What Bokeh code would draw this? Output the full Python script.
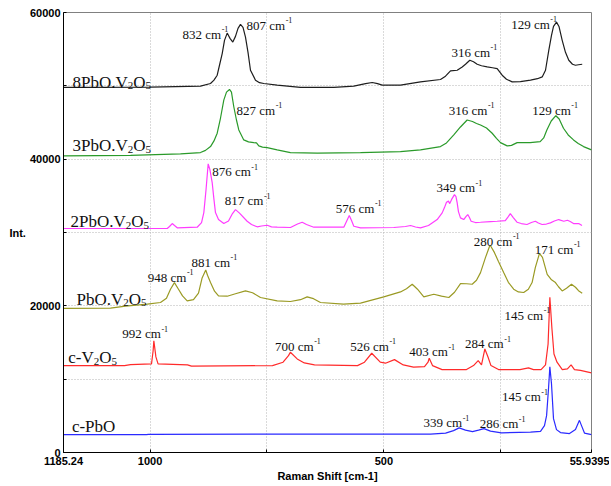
from bokeh.plotting import figure
from bokeh.models import Range1d, FixedTicker, ColumnDataSource
from bokeh.embed import file_html
from bokeh.resources import INLINE
from bokeh.core.properties import value

# ---------------- data (Raman shift [cm-1], intensity) ----------------
pbo_x = [1185.2, 1008, 1003.5, 400.3, 368, 351, 339, 325.5, 310.5, 297.6, 286, 272, 248.5, 186.4,
         165, 156.5, 152, 147.9, 145, 141.5, 137.2, 130.8, 122.3, 103, 90.2, 81.7, 77.3, 71, 56]
pbo_y = [2444, 2444, 2484, 2511, 2647, 2987, 3353, 3054, 2851, 3054, 3258, 2919, 2674, 2783,
         2892, 3665, 5023, 8688, 11675, 9367, 4616, 3122, 2715, 2579, 3122, 4385, 3665, 2647, 2444]

v2o5_x = [1185.2, 1054.8, 1042, 997, 993.6, 992, 987.6, 983, 920, 911.5, 738.2, 715.6, 704, 700,
          685.4, 670.2, 648.4, 556.5, 541.5, 526, 507.7, 496.6, 477.3, 458.5, 436.6, 413.1, 405.6,
          403, 396, 375.5, 323.3, 308.3, 298.3, 291.2, 284, 277.3, 271, 254.8, 209, 190.7, 180,
          163.8, 154.3, 148.8, 145, 140.5, 136.2, 129.7, 118.4, 107.4, 99.6, 92.4, 79.5, 56]
v2o5_y = [11851, 11851, 11987, 12082, 13847, 15245, 13032, 12082, 11946, 11770, 11851, 12313,
          13208, 13670, 12760, 12218, 11946, 11851, 12313, 13534, 12313, 12177, 12665, 11946,
          11634, 11715, 12313, 12855, 11851, 11308, 11308, 11851, 12530, 11946, 14118, 13032,
          11851, 11308, 11308, 11539, 11308, 11308, 11946, 14797, 21177, 16833, 13439, 12313,
          11308, 11403, 11946, 11308, 11199, 10860]

g1_x = [1185.2, 1084.7, 1052.6, 1006.2, 977.8, 965, 956.4, 948, 939.3, 930.7, 920.7, 907.2, 896.5,
        889, 881, 877.2, 870.8, 862.2, 853.7, 835.1, 817.4, 796, 781, 763.9, 728.2, 699.8, 678.4,
        664.1, 650.5, 635.6, 586.4, 550, 500.2, 464.5, 451.7, 439.4, 428.1, 414.6, 393.2, 376.7,
        361.1, 348.9, 336.1, 323.2, 311.1, 301.9, 293.3, 282.6, 274.1, 272.3, 263.7, 255.2, 243.8,
        233.8, 222.4, 212.3, 201, 191, 183, 176, 167.2, 160.8, 150.7, 141.5, 133, 126.5, 118.6,
        109.4, 98.7, 90.2, 83.7, 75.8]
g1_y = [19643, 19684, 19955, 20227, 20458, 21041, 22263, 23172, 22263, 21354, 20675, 20838, 21720,
        23756, 24883, 24164, 23172, 21992, 21354, 21313, 21652, 22032, 21788, 21136, 20675, 20594,
        20838, 21218, 20973, 20458, 20227, 20363, 21218, 21897, 22331, 22942, 22263, 21218, 21584,
        21313, 21136, 21856, 23037, 23010, 22942, 23485, 24530, 26607, 28100, 28236, 27286, 26064,
        24530, 23213, 22263, 21897, 21815, 22263, 23172, 25250, 27150, 26607, 24299, 23553, 23172,
        22602, 22032, 22399, 22942, 22535, 22060, 21720]

g2_x = [1185.2, 963.4, 958.5, 952.7, 947.8, 942, 899.3, 890, 885.1, 880.4, 875.8, 872, 867.2, 863.4,
        860.2, 853.7, 842.4, 832.3, 823.8, 817.4, 808.8, 792.4, 783.1, 771, 761.7, 749.5, 740.4,
        728.2, 699.8, 684.7, 674.7, 665.5, 649.9, 585.7, 580, 574, 569.2, 564.3, 550, 478.8, 453.8,
        443, 432.3, 421.7, 404.6, 386, 375.3, 370.4, 366.1, 361.8, 359.1, 355.4, 349, 345.8, 343.3,
        340.5, 336.2, 329.2, 324.5, 320.6, 317, 313.4, 304.2, 293.5, 272.1, 257.9, 240.3, 233.9,
        229.6, 223.2, 215.3, 206.1, 193.9, 184.5, 176, 169.6, 161.6, 152.4, 143.9, 135.3, 126.1,
        115.2, 107.3, 101.5, 94.4, 83.4, 76.3]
g2_y = [30544, 30544, 30815, 31222, 30951, 30639, 30720, 31358, 32716, 35838, 39368, 38553, 36788,
        34480, 32716, 31765, 31222, 31562, 32580, 33123, 32648, 31534, 31087, 30775, 30883, 30992,
        30775, 30720, 30680, 31155, 31399, 31087, 30720, 30720, 31494, 32309, 31630, 30856, 30639,
        30680, 30815, 30951, 30747, 30639, 30951, 31765, 32675, 33394, 34114, 34277, 33938, 34480,
        35159, 34888, 34073, 32852, 31996, 31765, 32173, 32444, 32037, 31535, 31358, 31399, 31494,
        31535, 31630, 32173, 32580, 32037, 31399, 31222, 31087, 31358, 31535, 31290, 31087, 31155,
        31318, 31562, 31765, 31535, 31670, 31494, 31222, 31222, 30951]

g3_x = [1185.2, 1041.9, 935, 892.2, 881.5, 870.8, 863.4, 856.5, 849.4, 842.4, 836.6, 830.2, 826,
        821, 815.3, 810.3, 799.7, 789.6, 778.2, 772.5, 767.5, 759.6, 749.6, 728.2, 699.8, 642.6,
        550, 464.5, 421.7, 378.9, 366.1, 350.5, 336.2, 321.9, 310.5, 301.9, 293.3, 280.5, 268.4,
        259.2, 250.6, 236.3, 227.1, 214.9, 187.1, 165.7, 158.2, 151.4, 142.1, 132.2, 125.1, 115.9,
        105.8, 94.4, 84.3, 73, 56]
g3_y = [40454, 40522, 40725, 40902, 41200, 41716, 42490, 43535, 45612, 48056, 49142, 49508, 49142,
        47147, 45341, 43983, 42626, 42354, 42259, 42218, 41811, 41648, 41580, 41268, 40902, 40820,
        40902, 41038, 41268, 41716, 42218, 43304, 44390, 45341, 45137, 44866, 44662, 44255, 43535,
        42829, 42259, 41811, 41879, 42259, 42259, 42395, 42897, 43983, 45205, 45924, 45476, 44214,
        43304, 42626, 42151, 41716, 41268]

g8_x = [1185.2, 1148.9, 999.2, 892.2, 870.8, 863.4, 856.5, 851.6, 845.8, 840.9, 835.1, 829.1,
        823.1, 817.4, 812, 806.7, 801.3, 796, 790.6, 785.3, 774.6, 766, 756.8, 728.2, 678.4, 607.1,
        564.3, 539.3, 524.9, 513.6, 503.6, 464.5, 421.7, 378.9, 368.2, 357.5, 343.2, 332.5, 325.4,
        316.2, 308.3, 300.4, 291.2, 279, 267.7, 257.7, 247, 237.8, 225.6, 208, 186.4, 171.5, 161.4,
        154.3, 147.3, 141.5, 137.2, 130.8, 125.5, 118.6, 111.6, 104.5, 96.6, 90.2, 83.7, 75.8]
g8_y = [49779, 49779, 49820, 49956, 50322, 50771, 51449, 52807, 54395, 56201, 57192, 56472, 55970,
        56744, 57830, 58373, 57966, 56649, 54572, 52128, 50771, 50431, 50322, 50092, 49779, 49779,
        49956, 50295, 50458, 50295, 50092, 50092, 50540, 50865, 51313, 52033, 52128, 52576, 52943,
        53486, 53282, 52943, 52739, 52576, 52467, 52359, 51449, 50906, 50540, 50567, 50771, 50974,
        51218, 52128, 54843, 56879, 58101, 58685, 58101, 56201, 54572, 53486, 52943, 52807, 52875,
        52943]

spectra = [
    (g8_x, g8_y, "#1e1e1e"),
    (g3_x, g3_y, "#2a9a2a"),
    (g2_x, g2_y, "#ff3cff"),
    (g1_x, g1_y, "#9a9a24"),
    (v2o5_x, v2o5_y, "#ff2a2a"),
    (pbo_x, pbo_y, "#2a2aff"),
]

# series names: (pieces, anchor x, anchor y)  pieces: (text, kind)
series_labels = [
    ([("8PbO.V", "n"), ("2", "sub"), ("O", "n"), ("5", "sub")], 1166, 50092),
    ([("3PbO.V", "n"), ("2", "sub"), ("O", "n"), ("5", "sub")], 1166, 41404),
    ([("2PbO.V", "n"), ("2", "sub"), ("O", "n"), ("5", "sub")], 1170.3, 31087),
    ([("PbO.V", "n"), ("2", "sub"), ("O", "n"), ("5", "sub")], 1157.4, 20458),
    ([("c-V", "n"), ("2", "sub"), ("O", "n"), ("5", "sub")], 1175, 12489),
    ([("c-PbO", "n")], 1167.3, 3122),
]

# peak labels: (wavenumber text, anchor x, anchor y)
peak_labels = [
    ("832", 930.7, 56744), ("807", 793.8, 57965), ("316", 355.4, 54300), ("129", 227.7, 58101),
    ("827", 815.2, 46427), ("316", 361.2, 46427), ("129", 182.8, 46427),
    ("876", 867.2, 38010), ("817", 840.2, 34033), ("576", 602.8, 33028), ("349", 387.5, 35838),
    ("948", 1004.9, 23621), ("881", 911.5, 25657), ("280", 307.7, 28508), ("171", 177.2, 27462),
    ("992", 1059.5, 15923), ("700", 732.9, 14213), ("526", 571.8, 14213), ("403", 445.6, 13439),
    ("284", 326.3, 14566), ("145", 242.0, 18462),
    ("339", 415.2, 3801), ("286", 295.2, 3665), ("145", 247.1, 7330),
]

# ---------------- figure ----------------
X0, X1 = 1185.24, 55.9395
p = figure(width=609, height=484, output_backend="svg", toolbar_location=None,
           x_range=Range1d(X0, X1), y_range=Range1d(0, 60000),
           min_border_left=63, min_border_right=18, min_border_top=12, min_border_bottom=30,
           background_fill_color="white", border_fill_color="white")
p.outline_line_color = "#808080"

p.xaxis.ticker = FixedTicker(ticks=[X0, 1000, 500, X1], minor_ticks=[750, 250])
p.xaxis.major_label_overrides = {X0: "1185.24", 1000: "1000", 500: "500", X1: "55.9395"}
p.yaxis.ticker = FixedTicker(ticks=[0, 20000, 40000, 60000], minor_ticks=[10000, 30000, 50000])
p.xgrid.ticker = FixedTicker(ticks=[1000, 750, 500, 250])
p.ygrid.ticker = FixedTicker(ticks=[10000, 20000, 30000, 40000, 50000])
for g in (p.xgrid, p.ygrid):
    g.grid_line_color = "#b4b4b4"
    g.grid_line_dash = "1 2"
    g.grid_line_width = 1

for ax in (p.xaxis, p.yaxis):
    ax.axis_line_color = "#000000"
    ax.major_tick_in = 3
    ax.major_tick_out = 0
    ax.minor_tick_in = 3
    ax.minor_tick_out = 0
    ax.major_tick_line_color = "#000000"
    ax.minor_tick_line_color = "#000000"
    ax.major_label_text_font = "Liberation Sans"
    ax.major_label_text_font_style = "bold"
    ax.major_label_text_font_size = "11px"
    ax.major_label_text_color = "#000000"
    ax.axis_label_text_font = "Liberation Sans"
    ax.axis_label_text_font_style = "bold"
    ax.axis_label_text_font_size = "11px"
    ax.axis_label_text_color = "#000000"
p.xaxis.major_label_standoff = 4
p.yaxis.major_label_standoff = 3
p.xaxis.axis_label = "Raman Shift [cm-1]"
p.xaxis.axis_label_standoff = 2
p.yaxis.axis_label = "Int."
p.yaxis.axis_label_orientation = "horizontal"
p.yaxis.axis_label_standoff = 1

for xs, ys, col in spectra:
    p.line(xs, ys, line_color=col, line_width=1.2)

# ---------------- text labels ----------------
W = {"0": 500, "1": 500, "2": 500, "3": 500, "4": 500, "5": 500, "6": 500, "7": 500, "8": 500,
     "9": 500, " ": 250, ".": 250, "-": 333, "c": 444, "m": 778, "P": 556, "b": 500, "O": 722,
     "V": 722}


def tw(s, size):
    return sum(W.get(ch, 500) for ch in s) * size / 1000.0


tx, ty, tt, tdx, tdy, tsz = [], [], [], [], [], []


def add_piece(x, y, text, dx, dy, size):
    tx.append(x); ty.append(y); tt.append(text)
    tdx.append(dx); tdy.append(dy); tsz.append("%gpx" % size)


MAIN, SUB = 17, 11
for pieces, ax_, ay_ in series_labels:
    off = 0.0
    for text, kind in pieces:
        size = MAIN if kind == "n" else SUB
        dy = -3 if kind == "n" else 0.5
        add_piece(ax_, ay_, text, off, dy, size)
        off += tw(text, size)

PK, SUP = 13, 8
for num, ax_, ay_ in peak_labels:
    base = num + " cm"
    add_piece(ax_, ay_, base, 0, -2, PK)
    add_piece(ax_, ay_, "-1", tw(base, PK) + 0.5, -7, SUP)

src = ColumnDataSource(dict(x=tx, y=ty, text=tt, dx=tdx, dy=tdy, size=tsz))
p.text(x="x", y="y", text="text", x_offset="dx", y_offset="dy", text_font_size="size",
       source=src, text_font=value("Liberation Serif"), text_color="#111111",
       text_align="left", text_baseline="alphabetic")

open("out.html", "w").write(file_html(p, INLINE))
